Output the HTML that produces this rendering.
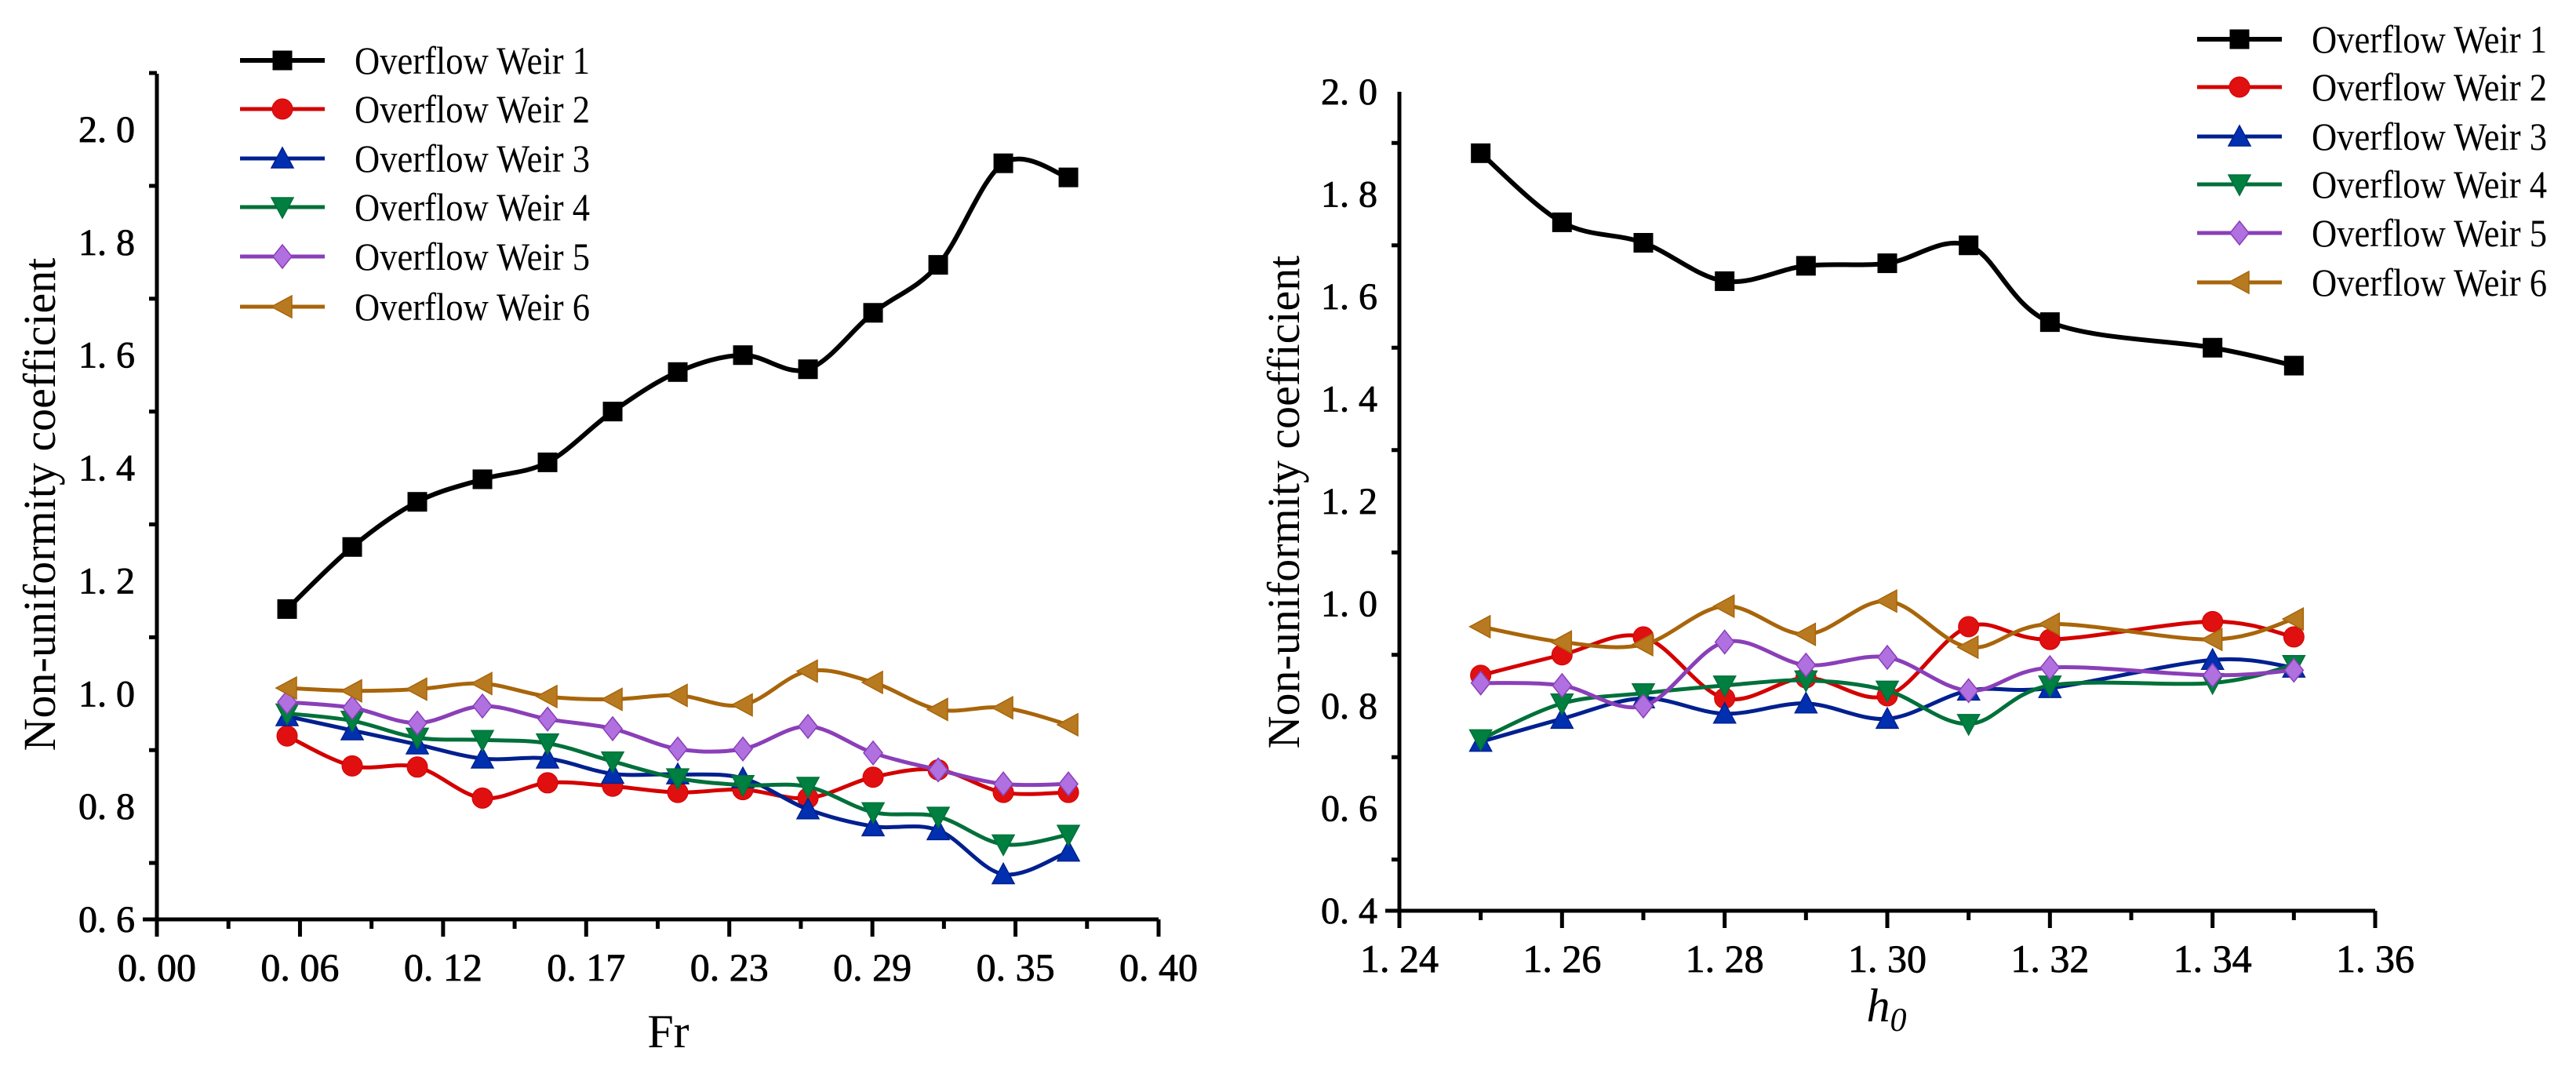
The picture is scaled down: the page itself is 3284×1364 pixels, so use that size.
<!DOCTYPE html>
<html><head><meta charset="utf-8">
<style>
html,body{margin:0;padding:0;background:#fff;}
svg{display:block;font-family:"Liberation Serif",serif;}
</style></head>
<body>
<svg id="chart" width="3284" height="1364" viewBox="0 0 3284 1364" xmlns="http://www.w3.org/2000/svg"></svg>
<script>
// ---- Left chart data (Fr) ----
const leftX = [0.052,0.078,0.104,0.130,0.156,0.182,0.208,0.234,0.260,0.286,0.312,0.338,0.364];
const leftW1 = [1.15,1.26,1.34,1.38,1.41,1.50,1.57,1.60,1.575,1.675,1.76,1.94,1.915];
const leftW2 = [0.925,0.872,0.87,0.815,0.842,0.836,0.825,0.83,0.815,0.852,0.865,0.825,0.825];
const leftW3 = [0.96,0.935,0.91,0.885,0.885,0.858,0.857,0.85,0.795,0.765,0.758,0.68,0.72];
const leftW4 = [0.965,0.952,0.922,0.918,0.912,0.88,0.85,0.838,0.835,0.79,0.782,0.733,0.75];
const leftW5 = [0.985,0.975,0.948,0.978,0.955,0.938,0.902,0.902,0.942,0.895,0.865,0.84,0.84];
const leftW6 = [1.01,1.005,1.008,1.018,0.995,0.99,0.997,0.98,1.04,1.02,0.972,0.975,0.945];
const leftXTicks = ["0. 00","0. 06","0. 12","0. 17","0. 23","0. 29","0. 35","0. 40"];
const leftYTicks = ["0. 6","0. 8","1. 0","1. 2","1. 4","1. 6","1. 8","2. 0"];
// ---- Right chart data (h0) ----
const rightX = [1.25,1.26,1.27,1.28,1.29,1.30,1.31,1.32,1.34,1.35];
const rightW1 = [1.88,1.745,1.705,1.63,1.66,1.665,1.70,1.55,1.50,1.465];
const rightW2 = [0.86,0.90,0.935,0.815,0.855,0.82,0.955,0.93,0.965,0.935];
const rightW3 = [0.73,0.775,0.815,0.785,0.805,0.775,0.83,0.835,0.89,0.875];
const rightW4 = [0.735,0.805,0.825,0.84,0.85,0.83,0.765,0.84,0.845,0.88];
const rightW5 = [0.845,0.84,0.80,0.925,0.88,0.895,0.83,0.875,0.86,0.87];
const rightW6 = [0.955,0.925,0.92,0.995,0.94,1.005,0.915,0.96,0.93,0.97];
const rightXTicks = ["1. 24","1. 26","1. 28","1. 30","1. 32","1. 34","1. 36"];
const rightYTicks = ["0. 4","0. 6","0. 8","1. 0","1. 2","1. 4","1. 6","1. 8","2. 0"];
const seriesNames = ["Overflow Weir 1","Overflow Weir 2","Overflow Weir 3","Overflow Weir 4","Overflow Weir 5","Overflow Weir 6"];

const colors = ["#000000","#d40000","#00208f","#00703a","#8a3fb8","#a8650a"];
const fills  = ["#000000","#e01010","#0030b0","#008040","#b070e0","#b87a20"];
const markers = ["square","circle","up","down","diamond","left"];
const NS = "http://www.w3.org/2000/svg";
const svg = document.getElementById('chart');

function mk(tag, attrs, parent){
  const e = document.createElementNS(NS, tag);
  for (const k in attrs) e.setAttribute(k, attrs[k]);
  (parent||svg).appendChild(e);
  return e;
}
function marker(g, type, x, y, c, f){
  const s = 12;
  let e;
  if (type==="square") e = mk('rect',{x:x-s,y:y-s,width:2*s,height:2*s,fill:f,stroke:c,'stroke-width':1},g);
  else if (type==="circle") e = mk('circle',{cx:x,cy:y,r:s+1,fill:f,stroke:c,'stroke-width':1},g);
  else {
    let p;
    if (type==="up") p=[[x,y-s-2],[x+s+2,y+s],[x-s-2,y+s]];
    else if (type==="down") p=[[x,y+s+2],[x+s+2,y-s],[x-s-2,y-s]];
    else if (type==="diamond") p=[[x,y-s-3],[x+s,y],[x,y+s+3],[x-s,y]];
    else p=[[x-s-2,y],[x+s,y-s-2],[x+s,y+s+2]];
    e = mk('polygon',{points:p.map(q=>q.join(',')).join(' '),fill:f,stroke:c,'stroke-width':1.5},g);
  }
  return e;
}
function spline(pts){
  let d = "M"+pts[0][0]+","+pts[0][1];
  for (let i=0;i<pts.length-1;i++){
    const p0=pts[Math.max(0,i-1)], p1=pts[i], p2=pts[i+1], p3=pts[Math.min(pts.length-1,i+2)];
    const c1=[p1[0]+(p2[0]-p0[0])/6, p1[1]+(p2[1]-p0[1])/6];
    const c2=[p2[0]-(p3[0]-p1[0])/6, p2[1]-(p3[1]-p1[1])/6];
    d += " C"+c1.join(',')+" "+c2.join(',')+" "+p2.join(',');
  }
  return d;
}

function drawChart(cfg){
  const g = mk('g',{});
  
  
  const sx = v => cfg.x0 + (v-cfg.xmin)/(cfg.xmax-cfg.xmin)*(cfg.x1-cfg.x0);
  const sy = v => cfg.y0 - (v-cfg.ymin)/(cfg.ymax-cfg.ymin)*(cfg.y0-cfg.y1);
  const ax = mk('path',{d:`M${cfg.x0},${cfg.yTop} L${cfg.x0},${cfg.y0} M${cfg.x0-18},${cfg.y0} L${cfg.x1},${cfg.y0}`,stroke:'#000','stroke-width':5,fill:'none'},g);
  
  
  const nx = cfg.xTicks.length-1;
  for (let i=0;i<=nx*2;i++){
    const px = cfg.x0 + i/(nx*2)*(cfg.x1-cfg.x0);
    const major = i%2===0;
    mk('line',{x1:px,y1:cfg.y0,x2:px,y2:cfg.y0+(major?22:12),stroke:'#000','stroke-width':5},g);
    if (major){
      const t = mk('text',{x:px,y:cfg.y0+78,'font-size':50,'text-anchor':'middle',fill:'#000',stroke:'#000','stroke-width':0.8},g);
      t.textContent = cfg.xTicks[i/2];
      
      
    }
  }
  const ny = cfg.yTicks.length-1;
  const yStep = (cfg.y0-cfg.y1)/ny;
  for (let i=0;i*yStep/2<=cfg.y0-cfg.yTop+1;i++){
    const py = cfg.y0 - i*yStep/2;
    const major = i%2===0;
    mk('line',{x1:cfg.x0,y1:py,x2:cfg.x0-(major?0:10),y2:py,stroke:'#000','stroke-width':5},g);
    if (major && i/2<=ny){
      const t = mk('text',{x:cfg.x0-28,y:py+16,'font-size':48,'text-anchor':'end',fill:'#000',stroke:'#000','stroke-width':0.8},g);
      t.textContent = cfg.yTicks[i/2];
      
      
    }
  }
  const xt = mk('text',{x:cfg.xtX,y:cfg.xtY,'font-size':60,'text-anchor':'middle',fill:'#000','font-style':cfg.xItalic?'italic':'normal'},g);
  if (cfg.xItalic){ xt.textContent='h'; const s=mk('tspan',{dy:12,'font-size':42},xt); s.textContent='0'; }
  else xt.textContent = cfg.xTitle;
  
  
  const yt = mk('text',{x:0,y:0,'font-size':58,'text-anchor':'middle',fill:'#000',transform:`translate(${cfg.ytX},${cfg.ytY}) rotate(-90)`},g);
  yt.textContent = 'Non-uniformity coefficient';
  
  
  cfg.series.forEach((vals,k)=>{
    const sg = mk('g',{},g);
    
    
    const pts = vals.map((v,i)=>[sx(cfg.xs[i]), sy(v)]);
    mk('path',{d:spline(pts),stroke:colors[k],'stroke-width':k===0?6:5,fill:'none'},sg);
    pts.forEach(p=>{
      const m = marker(sg, markers[k], p[0], p[1], colors[k], fills[k]);
      
      
    });
  });
  const lg = mk('g',{},g);
  
  
  seriesNames.forEach((n,k)=>{
    const ly = cfg.legY[k];
    const eg = mk('g',{},lg);
    
    
    mk('line',{x1:cfg.legX,y1:ly,x2:cfg.legX+108,y2:ly,stroke:colors[k],'stroke-width':k===0?6:5},eg);
    marker(eg, markers[k], cfg.legX+54, ly, colors[k], fills[k]);
    const t = mk('text',{x:cfg.legX+146,y:ly+17,'font-size':50,fill:'#000',textLength:300,lengthAdjust:'spacingAndGlyphs'},eg);
    t.textContent = n;
  });
}

drawChart({name:'chart-fr', x0:200, x1:1477, xmin:0, xmax:0.4, y0:1172, y1:165, ymin:0.6, ymax:2.0, yTop:94,
  xs:leftX, series:[leftW1,leftW2,leftW3,leftW4,leftW5,leftW6], xTicks:leftXTicks, yTicks:leftYTicks,
  xTitle:'Fr', xtX:852, xtY:1335, ytX:70, ytY:643, legX:306, legY:[77,139,202,264,327,391]});
drawChart({name:'chart-h0', x0:1784, x1:3028, xmin:1.24, xmax:1.36, y0:1161, y1:117, ymin:0.4, ymax:2.0, yTop:117,
  xs:rightX, series:[rightW1,rightW2,rightW3,rightW4,rightW5,rightW6], xTicks:rightXTicks, yTicks:rightYTicks,
  xItalic:true, xtX:2405, xtY:1302, ytX:1656, ytY:640, legX:2801, legY:[50,111,174,235,297,360]});
</script>
</body></html>
